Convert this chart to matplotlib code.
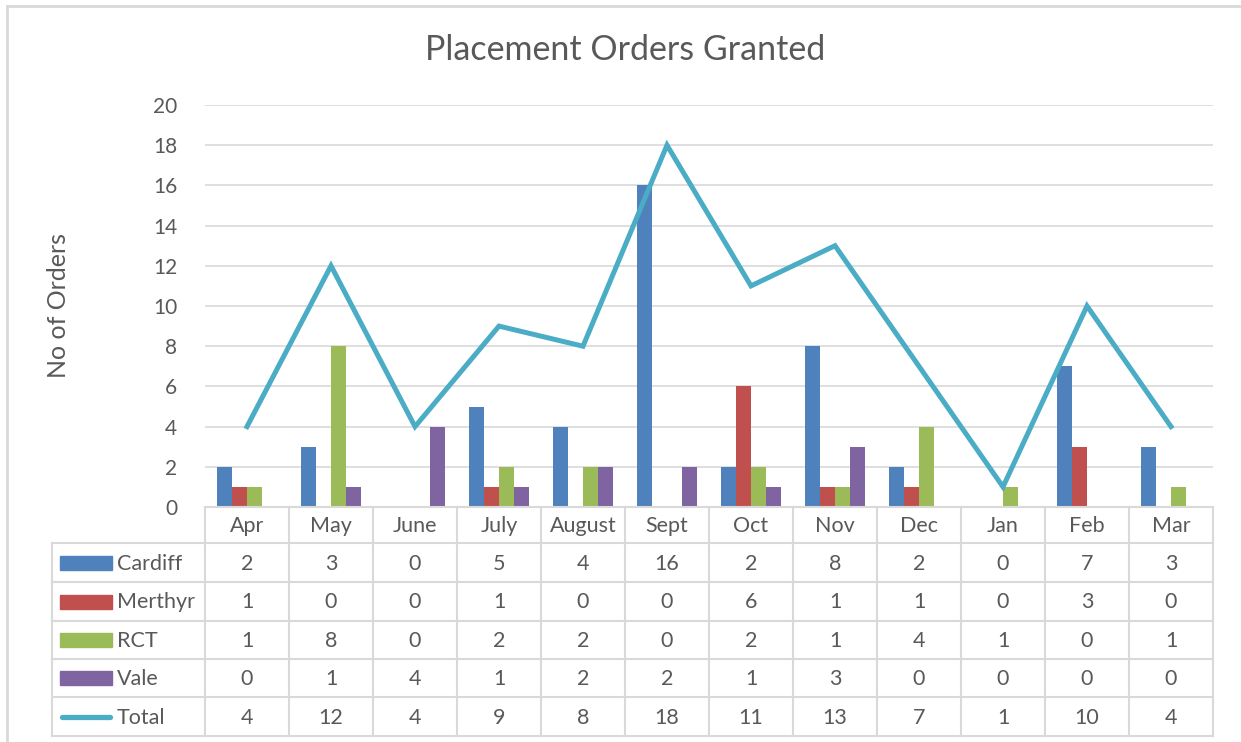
import matplotlib.pyplot as plt
from matplotlib.lines import Line2D
from matplotlib.patches import Rectangle

months = ['Apr', 'May', 'June', 'July', 'August', 'Sept', 'Oct', 'Nov', 'Dec', 'Jan', 'Feb', 'Mar']
cardiff = [2, 3, 0, 5, 4, 16, 2, 8, 2, 0, 7, 3]
merthyr = [1, 0, 0, 1, 0, 0, 6, 1, 1, 0, 3, 0]
rct = [1, 8, 0, 2, 2, 0, 2, 1, 4, 1, 0, 1]
vale = [0, 1, 4, 1, 2, 2, 1, 3, 0, 0, 0, 0]
total = [4, 12, 4, 9, 8, 18, 11, 13, 7, 1, 10, 4]
series_names = ['Cardiff', 'Merthyr', 'RCT', 'Vale']

colors = ['#4F81BD', '#C0504D', '#9BBB59', '#8064A2']
line_color = '#4BACC6'
text_color = '#595959'
grid_color = '#D9D9D9'

plt.rcParams['font.family'] = ['Lato', 'DejaVu Sans']

W, H = 1241, 742
fig = plt.figure(figsize=(W / 100, H / 100), dpi=100)


def px_rect(x0, y0, x1, y1):
    # pixel box (top-left origin) -> figure fraction
    return [x0 / W, 1 - y1 / H, (x1 - x0) / W, (y1 - y0) / H]


# outer chart frame (right and bottom are cut off in the source)
fig.add_artist(Line2D([7 / W, 7 / W], [0, 1 - 6 / H], color=grid_color, lw=2, transform=fig.transFigure))
fig.add_artist(Line2D([7 / W, 1], [1 - 6 / H, 1 - 6 / H], color=grid_color, lw=2, transform=fig.transFigure))

# plot area
px0, px1 = 205, 1213
py_top, py_zero = 105, 507
ax = fig.add_axes(px_rect(px0, py_top, px1, py_zero))
n = len(months)
ax.set_xlim(-0.5, n - 0.5)
ax.set_ylim(0, 20)
ax.set_yticks(range(0, 21, 2))
ax.set_xticks([])
for s in ax.spines.values():
    s.set_visible(False)
ax.tick_params(axis='y', length=0, pad=20, labelsize=15, labelcolor=text_color)
ax.grid(axis='y', color=grid_color, lw=1.2)
ax.set_axisbelow(True)

w = 15 / 84
xs = list(range(n))
for k, vals in enumerate([cardiff, merthyr, rct, vale]):
    ax.bar([x + (k - 1.5) * w for x in xs], vals, width=w, color=colors[k], zorder=2)
ax.plot(xs, total, color=line_color, lw=3.6, zorder=3, solid_joinstyle='miter')

fig.text(58 / W, 1 - 306 / H, 'No of Orders', rotation=90, ha='center', va='center',
         fontsize=18, color=text_color)
fig.text(625 / W, 1 - 50 / H, 'Placement Orders Granted', ha='center', va='center',
         fontsize=24.5, color=text_color)

# data table below the plot
lab_x0 = 52
tbl_y1 = 736
ta = fig.add_axes(px_rect(lab_x0, py_zero, px1, tbl_y1))
cw = (px1 - px0) / n
ta.set_xlim(-0.5 - (px0 - lab_x0) / cw, n - 0.5)
ta.set_ylim(tbl_y1, py_zero)
ta.axis('off')

row_edges = [507, 543, 582, 621, 659, 697, 736]
lc = '#D9D9D9'
lw = 1.5
left = ta.get_xlim()[0]
# horizontal lines
ta.plot([-0.5, n - 0.5], [row_edges[0]] * 2, color=lc, lw=lw, clip_on=False)
for y in row_edges[1:]:
    ta.plot([left, n - 0.5], [y, y], color=lc, lw=lw, clip_on=False)
# vertical lines
ta.plot([left, left], [row_edges[1], row_edges[-1]], color=lc, lw=lw, clip_on=False)
for i in range(n + 1):
    ta.plot([i - 0.5, i - 0.5], [row_edges[0], row_edges[-1]], color=lc, lw=lw, clip_on=False)

fs = 15.5
for i, m in enumerate(months):
    ta.text(i, (row_edges[0] + row_edges[1]) / 2 + 1, m, ha='center', va='center', fontsize=fs, color=text_color)

rows = [cardiff, merthyr, rct, vale, total]
names = series_names + ['Total']
key_x0 = left + 8 / cw
key_x1 = left + 60 / cw
for r, (name, vals) in enumerate(zip(names, rows)):
    yc = (row_edges[r + 1] + row_edges[r + 2]) / 2
    if r < 4:
        ta.add_patch(Rectangle((key_x0, yc - 7), key_x1 - key_x0, 14, color=colors[r], clip_on=False))
    else:
        ta.plot([key_x0 + 0.02, key_x1 - 0.02], [yc, yc], color=line_color, lw=3.8,
                solid_capstyle='round', clip_on=False)
    ta.text(left + 65 / cw, yc + 1, name, ha='left', va='center', fontsize=fs, color=text_color)
    for i, v in enumerate(vals):
        ta.text(i, yc + 1, str(v), ha='center', va='center', fontsize=fs, color=text_color)

fig.savefig('out.png', dpi=100)
